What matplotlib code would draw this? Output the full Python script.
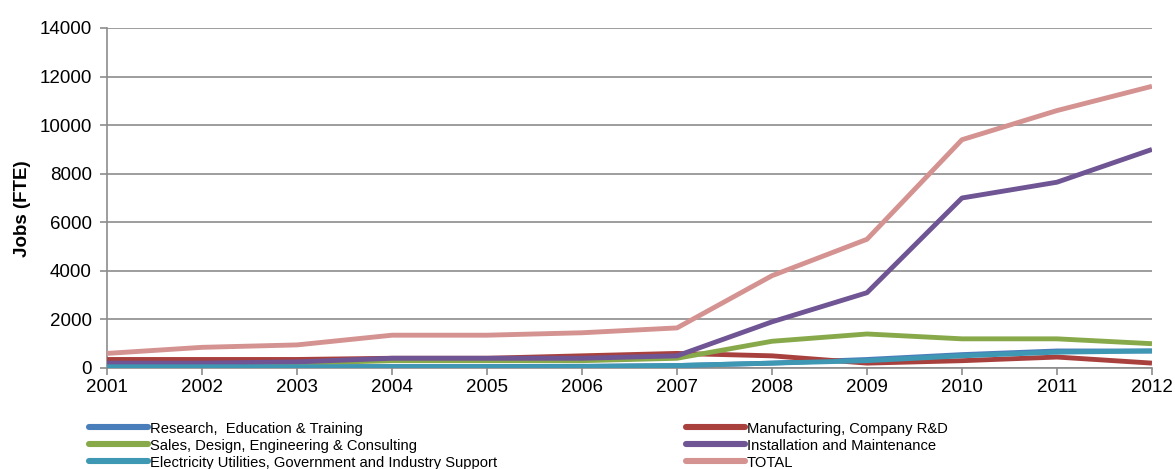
import matplotlib
matplotlib.use("Agg")
import matplotlib.pyplot as plt
from matplotlib.lines import Line2D

years = [2001, 2002, 2003, 2004, 2005, 2006, 2007, 2008, 2009, 2010, 2011, 2012]

research = [50, 50, 50, 60, 60, 70, 100, 200, 350, 550, 700, 700]
manufacturing = [350, 350, 350, 400, 400, 500, 600, 500, 200, 300, 450, 200]
sales = [150, 150, 200, 300, 300, 300, 400, 1100, 1400, 1200, 1200, 1000]
installation = [200, 200, 250, 400, 400, 400, 500, 1900, 3100, 7000, 7650, 9000]
electricity = [50, 50, 50, 50, 50, 60, 100, 200, 300, 500, 650, 700]
total = [600, 850, 950, 1350, 1350, 1450, 1650, 3800, 5300, 9400, 10600, 11600]

series = [
    ("Research,  Education & Training", research, "#4A7EBB"),
    ("Manufacturing, Company R&D", manufacturing, "#A8413E"),
    ("Sales, Design, Engineering & Consulting", sales, "#88A94A"),
    ("Installation and Maintenance", installation, "#6F5593"),
    ("Electricity Utilities, Government and Industry Support", electricity, "#3F98B3"),
    ("TOTAL", total, "#D49291"),
]

y_ticks = [0, 2000, 4000, 6000, 8000, 10000, 12000, 14000]

plt.rcParams["font.family"] = ["Liberation Sans", "DejaVu Sans"]

fig = plt.figure(figsize=(11.75, 4.69), dpi=100)
ax = fig.add_axes([0.0911, 0.2154, 0.8893, 0.7249])

for name, vals, color in series:
    ax.plot(years, vals, color=color, lw=3.5, solid_capstyle="butt",
            solid_joinstyle="round", zorder=3)

ax.set_xlim(years[0], years[-1])
ax.set_ylim(0, 14000)
ax.set_xticks(years)
ax.set_xticklabels([str(y) for y in years])
ax.set_yticks(y_ticks)
ax.set_yticklabels([str(v) for v in y_ticks])
ax.tick_params(axis="both", labelsize=13.5, colors="#8c8c8c", labelcolor="black",
               length=5, width=1.2, direction="out")
ax.tick_params(axis="x", pad=3)
ax.tick_params(axis="y", pad=6)

ax.grid(axis="y", color="#8c8c8c", lw=1.2, zorder=0)
ax.set_axisbelow(True)
for side in ("top", "right"):
    ax.spines[side].set_visible(False)
for side in ("left", "bottom"):
    ax.spines[side].set_color("#8c8c8c")
    ax.spines[side].set_linewidth(1.2)

ax.set_ylabel("Jobs (FTE)", fontsize=13.5, fontweight="bold")
ax.yaxis.set_label_coords(-0.073, 0.47)

legend_font = {"family": ["Liberation Sans Narrow", "Liberation Sans", "DejaVu Sans"], "size": 10.6}

def legend_handle(name):
    color = [c for n, _, c in series if n == name][0]
    return Line2D([0], [0], color=color, lw=4.4, solid_capstyle="round")

left_names = [series[0][0], series[2][0], series[4][0]]
right_names = [series[1][0], series[3][0], series[5][0]]

for names, xpos in ((left_names, 0.076), (right_names, 0.584)):
    fig.legend([legend_handle(n) for n in names], names, loc="upper left",
               bbox_to_anchor=(xpos, 0.101), frameon=False, prop=legend_font,
               handlelength=4.0, handletextpad=0.12, labelspacing=0.2,
               borderaxespad=0, borderpad=0)

fig.savefig("out.png", dpi=100)
